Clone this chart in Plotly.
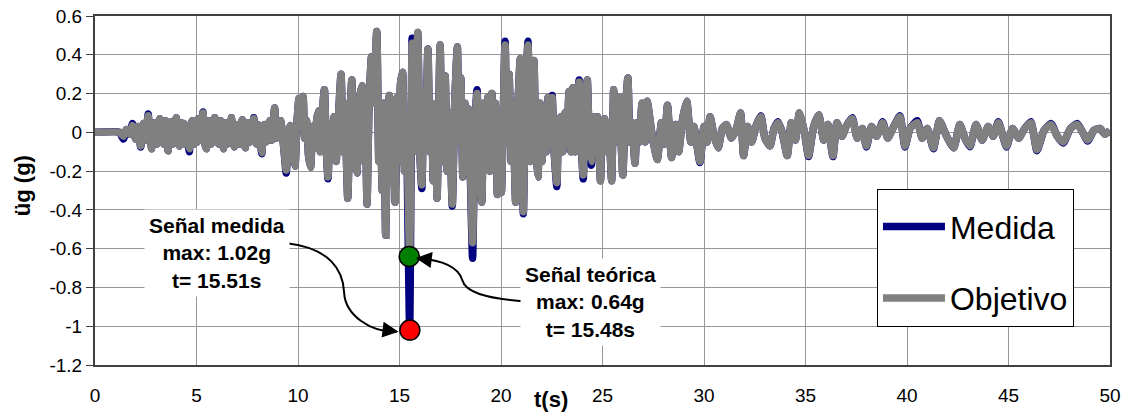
import plotly.graph_objects as go

# ---------------- data ----------------
t_s = [
    0.00, 1.20, 1.40, 1.55, 1.70, 1.85, 2.00, 2.12, 2.25, 2.40,
    2.50, 2.62, 2.70, 2.78, 2.86, 2.92, 3.00, 3.05, 3.12, 3.18,
    3.25, 3.32, 3.40, 3.47, 3.53, 3.60, 3.68, 3.75, 3.82, 3.90,
    4.00, 4.08, 4.15, 4.22, 4.30, 4.36, 4.44, 4.52, 4.58, 4.65,
    4.72, 4.80, 4.88, 4.96, 5.03, 5.10, 5.18, 5.25, 5.32, 5.40,
    5.48, 5.55, 5.62, 5.70, 5.78, 5.84, 5.90, 5.98, 6.05, 6.12,
    6.18, 6.25, 6.32, 6.38, 6.45, 6.52, 6.58, 6.65, 6.72, 6.79,
    6.85, 6.92, 7.00, 7.06, 7.12, 7.19, 7.25, 7.33, 7.40, 7.47,
    7.55, 7.62, 7.70, 7.76, 7.82, 7.88, 7.95, 8.02, 8.08, 8.15,
    8.22, 8.29, 8.35, 8.42, 8.50, 8.56, 8.62, 8.70, 8.78, 8.85,
    8.92, 9.00, 9.08, 9.15, 9.30, 9.42, 9.52, 9.60, 9.72, 9.85,
    9.95, 10.05, 10.15, 10.25, 10.33, 10.42, 10.52, 10.62, 10.72, 10.82,
    10.92, 11.00, 11.10, 11.20, 11.30, 11.40, 11.48, 11.58, 11.68, 11.78,
    11.88, 11.98, 12.12, 12.22, 12.30, 12.45, 12.55, 12.65, 12.75, 12.90,
    13.00, 13.15, 13.25, 13.32, 13.40, 13.50, 13.62, 13.72, 13.88, 13.98,
    14.05, 14.15, 14.22, 14.32, 14.42, 14.50, 14.60, 14.70, 14.78, 14.88,
    14.96, 15.05, 15.15, 15.25, 15.33, 15.50, 15.62, 15.70, 15.78, 15.90,
    16.00, 16.10, 16.20, 16.28, 16.40, 16.50, 16.58, 16.66, 16.76, 16.85,
    17.00, 17.10, 17.18, 17.25, 17.35, 17.45, 17.60, 17.72, 17.85, 17.93,
    18.02, 18.12, 18.22, 18.30, 18.40, 18.60, 18.72, 18.82, 18.92, 19.05,
    19.15, 19.25, 19.35, 19.45, 19.55, 19.65, 19.72, 19.82, 19.92, 20.02,
    20.20, 20.30, 20.40, 20.50, 20.58, 20.72, 20.82, 20.95, 21.10, 21.20,
    21.33, 21.43, 21.53, 21.62, 21.72, 21.82, 21.92, 22.02, 22.12, 22.22,
    22.32, 22.42, 22.52, 22.62, 22.75, 22.85, 22.95, 23.05, 23.15, 23.25,
    23.35, 23.45, 23.55, 23.65, 23.75, 23.85, 23.95, 24.05, 24.15, 24.25,
    24.35, 24.45, 24.55, 24.65, 24.75, 24.90, 25.00, 25.10, 25.20, 25.30,
    25.45, 25.55, 25.65, 25.75, 25.85, 25.92, 26.00, 26.12, 26.25, 26.35,
    26.45, 26.60, 26.70, 26.80, 26.95, 27.10, 27.20, 27.45, 27.70, 27.90,
    28.05, 28.20, 28.40, 28.60, 28.75, 28.95, 29.15, 29.35, 29.50, 29.80,
    30.00, 30.15, 30.30, 30.50, 30.70, 30.90, 31.10, 31.35, 31.60, 31.80,
    31.95, 32.15, 32.35, 32.55, 32.80, 33.00, 33.25, 33.45, 33.65, 33.85,
    34.10, 34.30, 34.50, 34.70, 34.95, 35.15, 35.40, 35.65, 35.90, 36.10,
    36.35, 36.55, 36.80, 37.00, 37.30, 37.55, 37.80, 38.00, 38.25, 38.50,
    38.80, 39.05, 39.30, 39.65, 39.90, 40.15, 40.50, 40.75, 41.00, 41.30,
    41.60, 41.95, 42.30, 42.60, 42.85, 43.10, 43.40, 43.70, 44.00, 44.25,
    44.50, 44.90, 45.20, 45.50, 45.80, 46.10, 46.40, 46.75, 47.10, 47.40,
    47.70, 48.05, 48.40, 48.90, 49.20, 49.50, 49.75, 50.00,
]

objetivo_g = [
    0.000, 0.000, -0.020, 0.015, -0.010, 0.035, -0.035, 0.030, -0.070, 0.045,
    -0.040, 0.085, -0.030, -0.085, 0.030, 0.050, -0.050, -0.060, 0.040, 0.070,
    -0.050, 0.030, -0.060, 0.060, -0.030, -0.095, 0.040, 0.055, -0.060, 0.040,
    0.075, -0.040, -0.070, 0.050, -0.040, 0.045, -0.060, 0.030, -0.040, -0.085,
    0.040, 0.060, -0.060, 0.040, -0.050, 0.070, -0.040, 0.050, 0.100, -0.050,
    -0.085, 0.040, 0.060, -0.060, 0.050, -0.040, 0.075, -0.050, 0.030, -0.060,
    0.060, -0.040, -0.085, 0.030, 0.050, -0.060, 0.030, -0.040, 0.075, -0.040,
    -0.075, 0.040, -0.030, 0.040, -0.060, 0.040, 0.065, -0.050, -0.080, 0.040,
    0.050, -0.050, 0.030, -0.040, 0.070, -0.030, -0.060, 0.040, 0.030, -0.060,
    -0.105, 0.030, 0.040, -0.050, 0.020, -0.040, 0.060, -0.040, 0.050, 0.125,
    -0.030, 0.040, -0.020, 0.060, -0.080, -0.195, -0.020, 0.035, -0.100, -0.175,
    0.050, 0.175, 0.100, 0.185, -0.030, 0.060, -0.120, -0.180, 0.030, -0.080,
    0.060, 0.110, -0.100, 0.100, 0.220, -0.100, -0.230, 0.040, -0.080, 0.080,
    -0.150, 0.050, 0.300, -0.100, 0.150, -0.340, 0.050, 0.270, -0.100, -0.210,
    0.150, 0.240, -0.150, 0.050, -0.370, 0.150, 0.390, 0.150, 0.520, -0.150,
    0.100, -0.300, 0.150, -0.530, 0.050, 0.190, -0.250, 0.150, -0.360, 0.180,
    -0.150, 0.250, 0.310, -0.200, 0.100, -0.640, 0.460, -0.100, 0.200, 0.515,
    -0.100, -0.270, 0.200, -0.050, 0.430, -0.100, 0.150, -0.250, 0.100, -0.340,
    0.450, -0.150, 0.100, 0.290, -0.200, 0.100, -0.370, 0.150, 0.440, -0.050,
    0.280, -0.230, 0.150, -0.150, 0.120, -0.570, 0.050, 0.200, -0.150, -0.360,
    0.150, -0.100, 0.180, -0.200, 0.200, -0.100, 0.150, -0.320, 0.100, -0.310,
    0.450, -0.050, 0.300, -0.150, 0.150, -0.360, 0.100, 0.380, -0.410, 0.150,
    0.450, -0.150, 0.200, 0.370, -0.100, -0.230, 0.150, -0.150, 0.100, -0.100,
    0.180, -0.050, 0.180, -0.100, -0.260, 0.050, 0.080, -0.100, 0.100, -0.050,
    0.210, -0.100, 0.230, -0.100, 0.100, 0.260, -0.050, -0.220, 0.100, 0.270,
    -0.050, -0.150, 0.080, -0.050, 0.080, -0.250, 0.050, 0.070, -0.100, 0.050,
    -0.250, 0.220, -0.050, 0.100, 0.180, -0.050, -0.220, 0.100, 0.280, -0.050,
    0.050, -0.160, 0.050, -0.050, 0.150, -0.050, 0.160, -0.020, -0.140, 0.050,
    -0.060, 0.140, -0.130, 0.040, -0.100, 0.070, 0.160, -0.050, 0.030, -0.150,
    0.030, -0.050, 0.080, -0.020, -0.080, 0.020, 0.040, -0.030, 0.020, 0.100,
    -0.120, 0.030, -0.050, 0.030, 0.080, -0.030, -0.070, 0.020, 0.050, 0.000,
    -0.120, 0.050, -0.040, 0.100, 0.000, -0.120, 0.030, 0.090, -0.040, 0.040,
    -0.120, 0.050, -0.020, 0.030, 0.070, -0.030, 0.020, -0.070, 0.030, -0.020,
    0.050, -0.030, 0.020, 0.080, -0.070, 0.020, 0.050, -0.030, 0.020, -0.080,
    0.060, -0.020, -0.080, 0.040, -0.030, -0.070, 0.040, -0.040, 0.030, -0.020,
    0.050, -0.070, 0.020, -0.030, 0.020, 0.050, -0.090, 0.010, 0.040, -0.020,
    -0.050, 0.020, 0.040, -0.040, 0.010, 0.020, -0.010, 0.010,
]

medida_g = [
    0.000, 0.000, -0.035, 0.015, -0.010, 0.045, -0.035, 0.030, -0.075, 0.045,
    -0.040, 0.095, -0.030, -0.085, 0.030, 0.050, -0.050, -0.060, 0.040, 0.070,
    -0.050, 0.030, -0.060, 0.060, -0.030, -0.095, 0.040, 0.055, -0.060, 0.040,
    0.075, -0.040, -0.070, 0.050, -0.040, 0.045, -0.060, 0.030, -0.040, -0.100,
    0.040, 0.060, -0.060, 0.040, -0.050, 0.070, -0.040, 0.050, 0.105, -0.050,
    -0.085, 0.040, 0.060, -0.060, 0.050, -0.040, 0.075, -0.050, 0.030, -0.060,
    0.060, -0.040, -0.085, 0.030, 0.050, -0.060, 0.030, -0.040, 0.075, -0.040,
    -0.075, 0.040, -0.030, 0.040, -0.060, 0.040, 0.065, -0.050, -0.080, 0.040,
    0.050, -0.050, 0.030, -0.040, 0.075, -0.030, -0.060, 0.040, 0.030, -0.060,
    -0.110, 0.030, 0.040, -0.050, 0.020, -0.040, 0.060, -0.040, 0.050, 0.125,
    -0.030, 0.040, -0.020, 0.060, -0.080, -0.210, -0.020, 0.035, -0.100, -0.175,
    0.050, 0.175, 0.100, 0.185, -0.030, 0.060, -0.120, -0.180, 0.030, -0.080,
    0.060, 0.110, -0.100, 0.100, 0.220, -0.100, -0.240, 0.040, -0.080, 0.080,
    -0.150, 0.050, 0.300, -0.100, 0.150, -0.340, 0.050, 0.270, -0.100, -0.210,
    0.150, 0.240, -0.150, 0.050, -0.370, 0.150, 0.390, 0.150, 0.520, -0.150,
    0.100, -0.300, 0.150, -0.530, 0.050, 0.190, -0.250, 0.150, -0.360, 0.180,
    -0.150, 0.250, 0.310, -0.200, 0.100, -1.020, 0.485, -0.100, 0.200, 0.515,
    -0.100, -0.290, 0.200, -0.050, 0.430, -0.100, 0.150, -0.250, 0.100, -0.340,
    0.450, -0.150, 0.100, 0.290, -0.200, 0.100, -0.380, 0.150, 0.440, -0.050,
    0.280, -0.230, 0.150, -0.150, 0.120, -0.650, 0.050, 0.220, -0.150, -0.360,
    0.150, -0.100, 0.180, -0.200, 0.200, -0.100, 0.150, -0.320, 0.100, -0.310,
    0.470, -0.050, 0.300, -0.150, 0.150, -0.360, 0.100, 0.380, -0.420, 0.150,
    0.470, -0.150, 0.200, 0.370, -0.100, -0.230, 0.150, -0.150, 0.100, -0.100,
    0.180, -0.050, 0.190, -0.100, -0.280, 0.050, 0.080, -0.100, 0.100, -0.050,
    0.210, -0.100, 0.230, -0.100, 0.100, 0.270, -0.050, -0.240, 0.100, 0.270,
    -0.050, -0.170, 0.080, -0.050, 0.080, -0.250, 0.050, 0.070, -0.100, 0.050,
    -0.250, 0.220, -0.050, 0.100, 0.180, -0.050, -0.220, 0.100, 0.280, -0.050,
    0.050, -0.160, 0.050, -0.050, 0.150, -0.050, 0.160, -0.020, -0.140, 0.050,
    -0.060, 0.140, -0.130, 0.040, -0.100, 0.070, 0.160, -0.050, 0.030, -0.155,
    0.030, -0.050, 0.080, -0.020, -0.080, 0.020, 0.040, -0.030, 0.020, 0.100,
    -0.120, 0.030, -0.050, 0.030, 0.085, -0.030, -0.070, 0.020, 0.055, 0.000,
    -0.120, 0.050, -0.040, 0.100, 0.000, -0.125, 0.030, 0.090, -0.040, 0.040,
    -0.125, 0.050, -0.020, 0.030, 0.075, -0.030, 0.020, -0.075, 0.030, -0.020,
    0.055, -0.030, 0.020, 0.085, -0.075, 0.020, 0.060, -0.030, 0.020, -0.085,
    0.060, -0.020, -0.080, 0.040, -0.030, -0.075, 0.040, -0.040, 0.030, -0.020,
    0.055, -0.075, 0.020, -0.030, 0.020, 0.055, -0.095, 0.010, 0.045, -0.020,
    -0.055, 0.020, 0.045, -0.045, 0.010, 0.020, -0.010, 0.010,
]

assert len(t_s) == len(objetivo_g) == len(medida_g), (len(t_s), len(objetivo_g), len(medida_g))

peak_objetivo = (15.48, -0.64)
peak_medida = (15.51, -1.02)

y_tickvals = [0.6, 0.4, 0.2, 0.0, -0.2, -0.4, -0.6, -0.8, -1.0, -1.2]
y_ticktext = ["0.6", "0.4", "0.2", "0", "-0.2", "-0.4", "-0.6", "-0.8", "-1", "-1.2"]
x_tickvals = [0, 5, 10, 15, 20, 25, 30, 35, 40, 45, 50]

FONT = "Liberation Sans, Arial, sans-serif"

fig = go.Figure()
fig.add_trace(go.Scatter(
    x=t_s, y=medida_g, mode="lines", name="Medida", legendgroup="a",
    line=dict(color="#000080", width=7.5, shape="spline", smoothing=0.5),
))
fig.add_trace(go.Scatter(
    x=t_s, y=objetivo_g, mode="lines", name="Objetivo", legendgroup="b",
    line=dict(color="#808080", width=7.5, shape="spline", smoothing=0.5),
))
fig.add_trace(go.Scatter(
    x=[peak_objetivo[0]], y=[peak_objetivo[1]], mode="markers", showlegend=False,
    marker=dict(size=20, color="#008000", line=dict(color="black", width=1.5)),
))
fig.add_trace(go.Scatter(
    x=[peak_medida[0]], y=[peak_medida[1]], mode="markers", showlegend=False,
    marker=dict(size=20, color="#ff0000", line=dict(color="black", width=1.5)),
))

# curved connectors
fig.add_shape(type="path", xref="x", yref="y",
              path="M 9.46,-0.572 C 11.58,-0.598 12.22,-0.711 12.27,-0.824 "
                   "C 12.32,-0.943 13.55,-1.030 14.85,-1.030",
              line=dict(color="black", width=2))
fig.add_shape(type="path", xref="x", yref="y",
              path="M 21.04,-0.871 C 19.22,-0.855 18.24,-0.824 18.09,-0.762 "
                   "C 17.89,-0.690 17.00,-0.659 15.90,-0.650",
              line=dict(color="black", width=2))

annos = [
    dict(x=6.01, y=-0.623, xref="x", yref="y", showarrow=False,
         text="<b>Señal medida<br>max: 1.02g<br>t= 15.51s</b>",
         font=dict(family=FONT, size=21, color="black"),
         bgcolor="white", borderpad=4, align="center"),
    dict(x=24.40, y=-0.876, xref="x", yref="y", showarrow=False,
         text="<b>Señal teórica<br>max: 0.64g<br>t= 15.48s</b>",
         font=dict(family=FONT, size=21, color="black"),
         bgcolor="white", borderpad=4, align="center"),
    # arrow heads
    dict(x=14.95, y=-1.028, xref="x", yref="y", ax=-16, ay=-2, text="",
         showarrow=True, arrowhead=2, arrowsize=1.6, arrowwidth=2, arrowcolor="black"),
    dict(x=15.80, y=-0.648, xref="x", yref="y", ax=16, ay=2, text="",
         showarrow=True, arrowhead=2, arrowsize=1.6, arrowwidth=2, arrowcolor="black"),
    # axis titles
    dict(x=0.449, y=-0.10, xref="paper", yref="paper", showarrow=False,
         text="<b>t(s)</b>", font=dict(family=FONT, size=22, color="black"),
         xanchor="center", yanchor="middle"),
    dict(x=-0.072, y=0.515, xref="paper", yref="paper", showarrow=False,
         text="<b>üg (g)</b>", textangle=-90, font=dict(family=FONT, size=22, color="black"),
         xanchor="center", yanchor="middle"),
]
for a in annos:
    fig.add_annotation(**a)

fig.update_layout(
    width=1124, height=415,
    margin=dict(l=95, r=14, t=16, b=50),
    paper_bgcolor="white", plot_bgcolor="white",
    font=dict(family=FONT, size=19, color="black"),
    showlegend=True,
    legend=dict(
        x=0.7704, y=0.5043, xanchor="left", yanchor="top",
        bgcolor="white", bordercolor="black", borderwidth=1,
        font=dict(family=FONT, size=32, color="black"),
        title=dict(text=" ", font=dict(size=7)),
        traceorder="grouped", tracegroupgap=27, itemwidth=62,
    ),
)
fig.update_xaxes(
    range=[0, 50], tickvals=x_tickvals, showgrid=True, gridcolor="#969696", gridwidth=1,
    showline=True, linecolor="#404040", linewidth=2, mirror=True,
    ticks="", ticklabelstandoff=12, zeroline=False, automargin=False,
    tickfont=dict(family=FONT, size=19, color="black"),
)
fig.update_yaxes(
    range=[-1.2, 0.6], tickvals=y_tickvals, ticktext=y_ticktext,
    showgrid=True, gridcolor="#969696", gridwidth=1,
    showline=True, linecolor="#404040", linewidth=2, mirror=True,
    ticks="outside", ticklen=7, tickcolor="#404040", zeroline=False, automargin=False,
    tickfont=dict(family=FONT, size=19, color="black"),
)

fig.write_html("out.html", config={"displayModeBar": False},
               post_script="document.body.style.margin='0px';")
